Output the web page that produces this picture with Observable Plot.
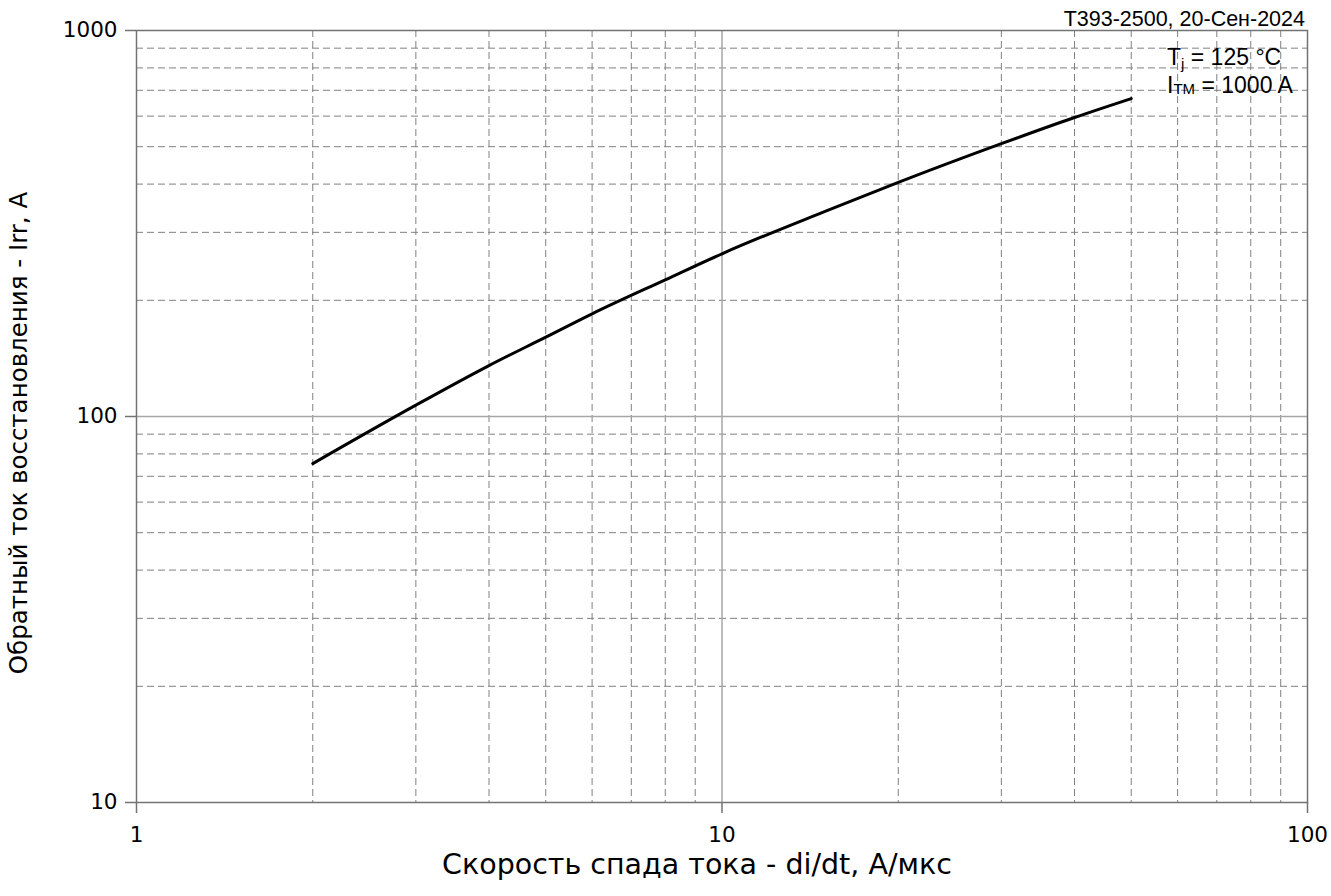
<!DOCTYPE html>
<html>
<head>
<meta charset="utf-8">
<script src="https://cdn.jsdelivr.net/npm/d3@7"></script>
<script src="https://cdn.jsdelivr.net/npm/@observablehq/plot@0.6"></script>
<style>
  html, body { margin: 0; padding: 0; background: #fff; }
  #chart svg { display: block; }
</style>
</head>
<body>
<div id="chart"></div>
<script>
// Data
const didt = [2, 3, 4, 5, 6, 8, 10, 15, 20, 30, 40, 50];
const irr  = [75.5, 107, 135.5, 160.5, 184.5, 226, 264, 340, 404, 509, 595, 666];

const xMajorTicks = [1, 10, 100];
const yMajorTicks = [10, 100, 1000];
const xMinorGrid = [2, 3, 4, 5, 6, 7, 8, 9, 20, 30, 40, 50, 60, 70, 80, 90];
const yMinorGrid = [20, 30, 40, 50, 60, 70, 80, 90, 200, 300, 400, 500, 600, 700, 800, 900];
const xMajorGrid = [10];
const yMajorGrid = [100];

const title = "Т393-2500, 20-Сен-2024";
const xLabel = "Скорость спада тока - di/dt, А/мкс";
const yLabel = "Обратный ток восстановления - Irr, А";

const data = didt.map((d, i) => ({x: d, y: irr[i]}));

const tickFont = "'DejaVu Sans', sans-serif";
const labelFont = "'DejaVu Sans', sans-serif";
const gridDash = "7,4";

const chart = Plot.plot({
  width: 1331,
  height: 896,
  marginLeft: 136,
  marginRight: 24,
  marginTop: 30,
  marginBottom: 94,
  style: {fontFamily: tickFont, background: "#fff", color: "#000"},
  x: {type: "log", domain: [1, 100]},
  y: {type: "log", domain: [10, 1000]},
  marks: [
    Plot.ruleX(xMinorGrid, {stroke: "#808080", strokeWidth: 1, strokeDasharray: gridDash}),
    Plot.ruleY(yMinorGrid, {stroke: "#808080", strokeWidth: 1, strokeDasharray: gridDash}),
    Plot.ruleX(xMajorGrid, {stroke: "#a6a6a6", strokeWidth: 1.5}),
    Plot.ruleY(yMajorGrid, {stroke: "#a6a6a6", strokeWidth: 1.5}),
    Plot.frame({stroke: "#737373", strokeWidth: 1.5}),
    Plot.axisX({ticks: xMajorTicks, tickSize: 11, tickPadding: 13, fontSize: 21.5, tickFormat: d => String(d), label: null, stroke: "#737373", strokeWidth: 1.5}),
    Plot.axisY({ticks: yMajorTicks, tickSize: 11, tickPadding: 8, fontSize: 21.5, tickFormat: d => String(d), label: null, stroke: "#737373", strokeWidth: 1.5}),
    Plot.line(data, {x: "x", y: "y", stroke: "#000", strokeWidth: 3, curve: "monotone-x"})
  ]
});

document.getElementById("chart").appendChild(chart);

// Text annotations (title, axis labels, conditions)
const svg = d3.select(chart);
const sansA = "'Liberation Sans', Arial, sans-serif";

svg.append("text")
  .attr("x", 1305).attr("y", 26)
  .attr("text-anchor", "end")
  .attr("font-family", sansA).attr("font-size", 21.5)
  .attr("fill", "#000")
  .text(title);

svg.append("text")
  .attr("x", 697).attr("y", 874)
  .attr("text-anchor", "middle")
  .attr("font-family", labelFont).attr("font-size", 28.5)
  .attr("fill", "#000")
  .text(xLabel);

svg.append("text")
  .attr("transform", "translate(27,433) rotate(-90)")
  .attr("text-anchor", "middle")
  .attr("font-family", labelFont).attr("font-size", 24.5)
  .attr("fill", "#000")
  .text(yLabel);

const t1 = svg.append("text")
  .attr("x", 1167).attr("y", 65)
  .attr("text-anchor", "start")
  .attr("font-family", sansA).attr("font-size", 23)
  .attr("fill", "#000");
t1.append("tspan").text("T");
t1.append("tspan").attr("font-size", 15).attr("dy", 4).text("j");
t1.append("tspan").attr("dy", -4).text(" = 125 °C");

const t2 = svg.append("text")
  .attr("x", 1167).attr("y", 93)
  .attr("text-anchor", "start")
  .attr("font-family", sansA).attr("font-size", 23)
  .attr("fill", "#000");
t2.append("tspan").text("I");
t2.append("tspan").attr("font-size", 15).attr("dy", 1).text("TM");
t2.append("tspan").attr("dy", -1).text(" = 1000 A");
</script>
</body>
</html>
